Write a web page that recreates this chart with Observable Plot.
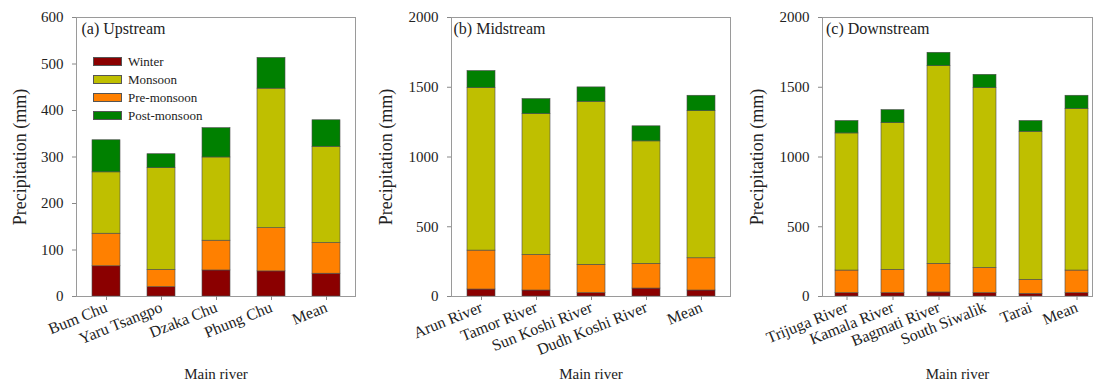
<!DOCTYPE html>
<html><head><meta charset="utf-8">
<style>
body{margin:0;background:#fff;font-family:'Liberation Serif',serif;}
#root{position:relative;width:1095px;height:384px;overflow:hidden;font-family:'Liberation Serif',serif;background:#fff;}
.panel{position:absolute;top:0;}
.panel svg{overflow:visible;}
.legend{position:absolute;left:92.5px;top:52.5px;font-size:13px;color:#222;font-family:'Liberation Serif',serif;}
.legend .row{display:flex;align-items:center;height:18px;}
.legend .sw{box-sizing:border-box;width:29px;height:9.5px;border:0.7px solid #555;margin-right:6.5px;}
</style>
<script src="https://cdn.jsdelivr.net/npm/d3@7"></script>
<script src="https://cdn.jsdelivr.net/npm/@observablehq/plot@0.6"></script>
</head><body>
<div id="root"></div>
<script>
// ---- data ----
const stackOrder = ["Winter", "Pre-monsoon", "Monsoon", "Post-monsoon"];
const legendOrder = ["Winter", "Monsoon", "Pre-monsoon", "Post-monsoon"];
const legendColors = ["#8b0000", "#bfbf00", "#ff8000", "#008000"];

const upRivers = ["Bum Chu", "Yaru Tsangpo", "Dzaka Chu", "Phung Chu", "Mean"];
const upWinter = [65, 20, 56, 54, 49];
const upPre = [70, 37, 64, 93, 66];
const upMonsoon = [132, 219, 179, 300, 207];
const upPost = [69, 30, 63, 66, 57];

const midRivers = ["Arun River", "Tamor River", "Sun Koshi River", "Dudh Koshi River", "Mean"];
const midWinter = [50, 43, 24, 57, 43];
const midPre = [279, 255, 203, 177, 231];
const midMonsoon = [1165, 1010, 1169, 878, 1055];
const midPost = [122, 107, 103, 108, 110];

const downRivers = ["Trijuga River", "Kamala River", "Bagmati River", "South Siwalik", "Tarai", "Mean"];
const downWinter = [24, 24, 29, 24, 19, 24];
const downPre = [162, 167, 205, 181, 100, 162];
const downMonsoon = [983, 1052, 1417, 1289, 1062, 1158];
const downPost = [89, 93, 96, 95, 77, 95];

const upTicks = [0, 100, 200, 300, 400, 500, 600];
const midTicks = [0, 500, 1000, 1500, 2000];
const downTicks = [0, 500, 1000, 1500, 2000];

const panelTitles = ["(a) Upstream", "(b) Midstream", "(c) Downstream"];
const yTitle = "Precipitation (mm)";
const xTitle = "Main river";

// ---- build ----
const FONT = "'Liberation Serif', serif";

function table(rivers, winter, pre, monsoon, post) {
  const rows = [];
  const bySeason = {"Winter": winter, "Pre-monsoon": pre, "Monsoon": monsoon, "Post-monsoon": post};
  rivers.forEach((r, i) => {
    stackOrder.forEach(s => rows.push({river: r, season: s, value: bySeason[s][i]}));
  });
  return rows;
}

const root = document.getElementById("root");

function panel(cfg) {
  const data = table(cfg.rivers, cfg.winter, cfg.pre, cfg.monsoon, cfg.post);
  const p = Plot.plot({
    width: cfg.width, height: 384,
    marginLeft: cfg.ml, marginRight: cfg.mr, marginTop: 17, marginBottom: 88,
    style: {fontFamily: FONT, fontSize: "15px", color: "#222", background: "transparent"},
    x: {domain: cfg.rivers, paddingInner: cfg.pi, paddingOuter: cfg.po, align: cfg.align, label: null},
    y: {domain: [0, cfg.ticks[cfg.ticks.length - 1]], label: null},
    color: {domain: legendOrder, range: legendColors},
    marks: [
      Plot.barY(data, {x: "river", y: "value", fill: "season", stroke: "#4a4a4a", strokeWidth: 0.6}),
      Plot.frame({stroke: "#9a9a9a", strokeWidth: 1}),
      Plot.axisY({ticks: cfg.ticks, tickSize: 4, tickPadding: 9, fontSize: 15, stroke: "#888", label: null, tickFormat: d => String(d)}),
      Plot.axisX({tickSize: 4, tickPadding: 6, tickRotate: -22, fontSize: 16, stroke: "#888", label: null}),
      Plot.text([cfg.title], {frameAnchor: "top-left", textAnchor: "start", lineAnchor: "top", dx: cfg.tdx, dy: 5, fontSize: 16}),
      Plot.text([yTitle], {frameAnchor: "left", textAnchor: "middle", rotate: -90, dx: cfg.ydx, fontSize: 18, lineAnchor: "middle"}),
      Plot.text([xTitle], {frameAnchor: "bottom", textAnchor: "middle", dy: 78, fontSize: 15, lineAnchor: "middle"})
    ]
  });
  p.setAttribute("font-family", FONT);
  p.querySelectorAll("text").forEach(t => { t.setAttribute("font-family", FONT); t.style.setProperty("font-family", FONT, "important"); });
  const div = document.createElement("div");
  div.className = "panel";
  div.style.left = cfg.left + "px";
  div.appendChild(p);
  root.appendChild(div);
}

panel({rivers: upRivers, winter: upWinter, pre: upPre, monsoon: upMonsoon, post: upPost, ticks: upTicks,
  title: panelTitles[0], left: 0, width: 370, ml: 76, mr: 15, pi: 0.5, po: 0.25, align: 0.5, tdx: 5, ydx: -56});
panel({rivers: midRivers, winter: midWinter, pre: midPre, monsoon: midMonsoon, post: midPost, ticks: midTicks,
  title: panelTitles[1], left: 370, width: 370, ml: 81, mr: 10, pi: 0.5, po: 0.25, align: 0.5, tdx: 2, ydx: -65});
panel({rivers: downRivers, winter: downWinter, pre: downPre, monsoon: downMonsoon, post: downPost, ticks: downTicks,
  title: panelTitles[2], left: 740, width: 355, ml: 82, mr: 3, pi: 0.49, po: 0.135, align: 0.8, tdx: 3.5, ydx: -65});

// legend (inside panel a)
const lg = document.createElement("div");
lg.className = "legend";
legendOrder.forEach((s, i) => {
  const row = document.createElement("div");
  row.className = "row";
  const sw = document.createElement("div");
  sw.className = "sw";
  sw.style.background = legendColors[i];
  const t = document.createElement("span");
  t.textContent = s;
  t.style.setProperty("font-family", FONT, "important");
  row.appendChild(sw); row.appendChild(t);
  lg.appendChild(row);
});
root.appendChild(lg);
</script></body></html>
